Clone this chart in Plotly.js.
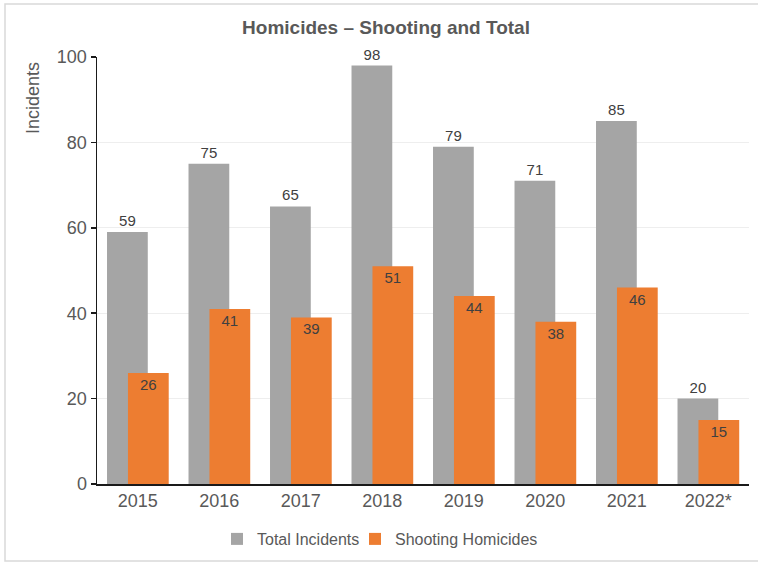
<!DOCTYPE html>
<html>
<head>
<meta charset="utf-8">
<script src="https://cdn.plot.ly/plotly-3.0.1.min.js"></script>
<style>
html,body{margin:0;padding:0;background:#fff;}
#chart{width:758px;height:565px;}
</style>
</head>
<body>
<div id="chart"></div>
<script>
const years = ["2015","2016","2017","2018","2019","2020","2021","2022*"];
const totalIncidents = [59, 75, 65, 98, 79, 71, 85, 20];
const shootingHomicides = [26, 41, 39, 51, 44, 38, 46, 15];
const seriesNames = ["Total Incidents", "Shooting Homicides"];
const yTicks = [0, 20, 40, 60, 80, 100];

const FONT = "Liberation Sans, Arial, sans-serif";

const traces = [
  {
    type: "bar", name: seriesNames[0], x: years, y: totalIncidents,
    width: 0.5, offset: -0.377,
    marker: {color: "#A5A5A5"},
    text: totalIncidents.map(String), textposition: "outside",
    textfont: {family: FONT, size: 15, color: "#404040"},
    cliponaxis: false, hoverinfo: "none", legend: "legend"
  },
  {
    type: "bar", name: seriesNames[1], x: years, y: shootingHomicides,
    width: 0.5, offset: -0.12,
    marker: {color: "#ED7D31"},
    text: shootingHomicides.map(String), textposition: "inside",
    insidetextanchor: "end",
    insidetextfont: {family: FONT, size: 15, color: "#404040"},
    cliponaxis: false, hoverinfo: "none", legend: "legend2"
  }
];

const L = 97, R = 9, T = 57, B = 81, W = 758, H = 565;
const pw = W - L - R, ph = H - T - B;
const px = v => (v - L) / pw;
const py = v => (H - B - v) / ph;

const legendBase = {
  orientation: "h", xanchor: "left", yanchor: "middle",
  font: {family: FONT, size: 16, color: "#595959"},
  itemwidth: 30, bgcolor: "rgba(0,0,0,0)"
};

const layout = {
  width: W, height: H,
  margin: {l: L, r: R, t: T, b: B, pad: 0},
  paper_bgcolor: "#ffffff", plot_bgcolor: "#ffffff",
  barmode: "overlay",
  font: {family: FONT, color: "#595959"},
  title: {
    text: "<b>Homicides – Shooting and Total</b>",
    font: {family: FONT, size: 19, color: "#595959"},
    x: px(386), xref: "paper", xanchor: "center",
    y: 1 - 27 / H, yanchor: "middle"
  },
  xaxis: {
    type: "category", range: [-0.5, 7.5],
    showline: true, linecolor: "#1a1a1a", linewidth: 1.5,
    ticks: "", showgrid: false, zeroline: false,
    tickfont: {family: FONT, size: 18, color: "#595959"},
    automargin: false
  },
  yaxis: {
    range: [0, 100], tickvals: yTicks, ticktext: yTicks.map(String),
    showline: true, linecolor: "#1a1a1a", linewidth: 1.5,
    ticks: "outside", ticklen: 5, tickcolor: "#1a1a1a", tickwidth: 1.5,
    showgrid: true, gridcolor: "#EEEEEE", gridwidth: 1, zeroline: false,
    tickfont: {family: FONT, size: 18, color: "#595959"},
    automargin: false
  },
  annotations: [{
    text: "Incidents", textangle: -90, showarrow: false,
    xref: "paper", yref: "paper", x: px(33), y: py(98),
    xanchor: "center", yanchor: "middle",
    font: {family: FONT, size: 18, color: "#595959"}
  }],
  showlegend: true,
  legend: Object.assign({}, legendBase, {x: px(217), y: py(539)}),
  legend2: Object.assign({}, legendBase, {x: px(355), y: py(539)}),
  shapes: [{
    type: "rect", xref: "paper", yref: "paper", layer: "below",
    x0: px(5), x1: px(770), y0: py(561), y1: py(4),
    line: {color: "#D9D9D9", width: 1.5}, fillcolor: "rgba(0,0,0,0)"
  }]
};

Plotly.newPlot("chart", traces, layout, {displayModeBar: false, staticPlot: true});
</script>
</body>
</html>
